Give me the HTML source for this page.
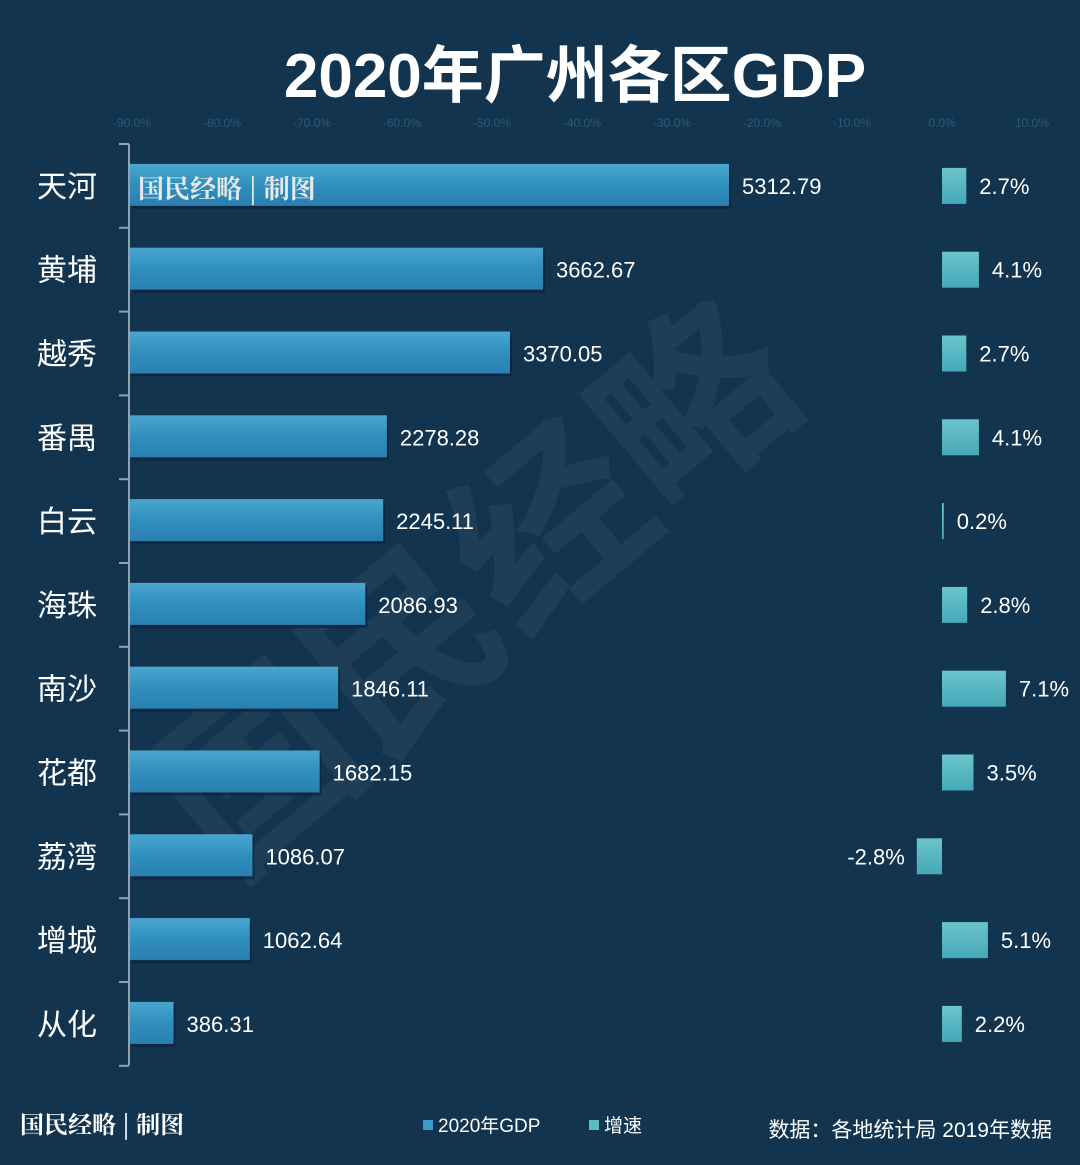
<!DOCTYPE html>
<html><head><meta charset="utf-8">
<style>
html,body{margin:0;padding:0;background:#12344f;}
svg{display:block;}
text{font-family:"Liberation Sans","Noto Sans CJK SC",sans-serif;}
</style></head>
<body>
<svg id="chart" width="1080" height="1165" viewBox="0 0 1080 1165" xmlns="http://www.w3.org/2000/svg">
<defs>
<linearGradient id="gdpGrad" x1="0" y1="0" x2="0" y2="1">
<stop offset="0" stop-color="#4aa6cf"/><stop offset="0.5" stop-color="#2f8fbf"/><stop offset="1" stop-color="#2a80b0"/>
</linearGradient>
<linearGradient id="grGrad" x1="0" y1="0" x2="0" y2="1">
<stop offset="0" stop-color="#6cc4cc"/><stop offset="1" stop-color="#44a9b8"/>
</linearGradient>
</defs>
<rect x="0" y="0" width="1080" height="1165" fill="#12344f"/>
<text x="520" y="640" font-size="190" font-weight="bold" fill="#ffffff" fill-opacity="0.05" text-anchor="middle" transform="rotate(-40 520 640)">国民经略</text>
<text x="575" y="97" font-size="62" font-weight="bold" fill="#ffffff" text-anchor="middle">2020年广州各区GDP</text>
<g id="topAxis"></g>
<g id="bars"></g>
<line x1="129" y1="144" x2="129" y2="1065" stroke="#8fa3b5" stroke-width="2"/>
<g id="yAxis"></g>
<text x="138" y="198" font-size="26" font-weight="bold" fill="#e8e8e8" style="font-family:'Noto Serif CJK SC',serif">国民经略 | 制图</text>
<text x="20" y="1133" font-size="24" font-weight="bold" fill="#ffffff" style="font-family:'Noto Serif CJK SC',serif">国民经略 | 制图</text>
<rect x="423" y="1120" width="10" height="10" fill="#3a9ccc"/>
<text x="438" y="1132" font-size="19" fill="#ffffff">2020年GDP</text>
<rect x="589" y="1120" width="10" height="10" fill="#5bbcc6"/>
<text x="604" y="1132" font-size="19" fill="#ffffff">增速</text>
<text x="1052" y="1137" font-size="21" fill="#ffffff" text-anchor="end">数据：各地统计局 2019年数据</text>
</svg>
<script>
const categories = ["天河","黄埔","越秀","番禺","白云","海珠","南沙","花都","荔湾","增城","从化"];
const gdpValues = [5312.79,3662.67,3370.05,2278.28,2245.11,2086.93,1846.11,1682.15,1086.07,1062.64,386.31];
const growthValues = [2.7,4.1,2.7,4.1,0.2,2.8,7.1,3.5,-2.8,5.1,2.2];
const growthTicks = [-90,-80,-70,-60,-50,-40,-30,-20,-10,0,10];

const NS = "http://www.w3.org/2000/svg";
const xGdp = v => 130 + v * (599 / 5312.79);
const xGr = v => 942 + v * 9.0;
const rowTop = 144, rowH = 83.8;
const yCenter = i => rowTop + rowH * (i + 0.5);
function mk(tag, attrs, parent) {
  const e = document.createElementNS(NS, tag);
  for (const k in attrs) e.setAttribute(k, attrs[k]);
  parent.appendChild(e);
  return e;
}
const topAxisG = document.getElementById("topAxis");
growthTicks.forEach(t => {
  const e = mk("text", {x: xGr(t), y: 127, "font-size": 12, fill: "#2a5a78", "text-anchor": "middle"}, topAxisG);
  
  
  e.textContent = t.toFixed(1) + "%";
});
const yAx = document.getElementById("yAxis");
for (let i = 0; i <= categories.length; i++) {
  const y = rowTop + rowH * i;
  const l = mk("line", {x1: 119, y1: y, x2: 129, y2: y, stroke: "#8fa3b5", "stroke-width": 2}, yAx);
  
  
}
const barsG = document.getElementById("bars");
categories.forEach((c, i) => {
  const yc = yCenter(i);
  const lab = mk("text", {x: 67, y: yc + 11, "font-size": 30, fill: "#ffffff", "text-anchor": "middle"}, yAx);
  
  
  lab.textContent = c;

  const w = xGdp(gdpValues[i]) - xGdp(0);
  const sh = mk("rect", {x: xGdp(0) + 2, y: yc - 19, width: w, height: 42, fill: "#0b2238", opacity: 0.6}, barsG);
  
  
  const b = mk("rect", {x: xGdp(0), y: yc - 22, width: w, height: 42, fill: "url(#gdpGrad)"}, barsG);
  
  
  const v = mk("text", {x: xGdp(gdpValues[i]) + 13, y: yc + 8, "font-size": 22, fill: "#ffffff"}, barsG);
  
  
  v.textContent = gdpValues[i].toFixed(2);

  const g = growthValues[i];
  const x0 = Math.min(xGr(0), xGr(g));
  const gw = Math.max(Math.abs(xGr(g) - xGr(0)), 1.5);
  const gb = mk("rect", {x: x0, y: yc - 18, width: gw, height: 36, fill: "url(#grGrad)"}, barsG);
  
  
  const gl = mk("text", {x: g >= 0 ? xGr(g) + 13 : xGr(g) - 12, y: yc + 8, "font-size": 22, fill: "#ffffff", "text-anchor": g >= 0 ? "start" : "end"}, barsG);
  
  
  gl.textContent = g.toFixed(1) + "%";
});
</script>
</body></html>
